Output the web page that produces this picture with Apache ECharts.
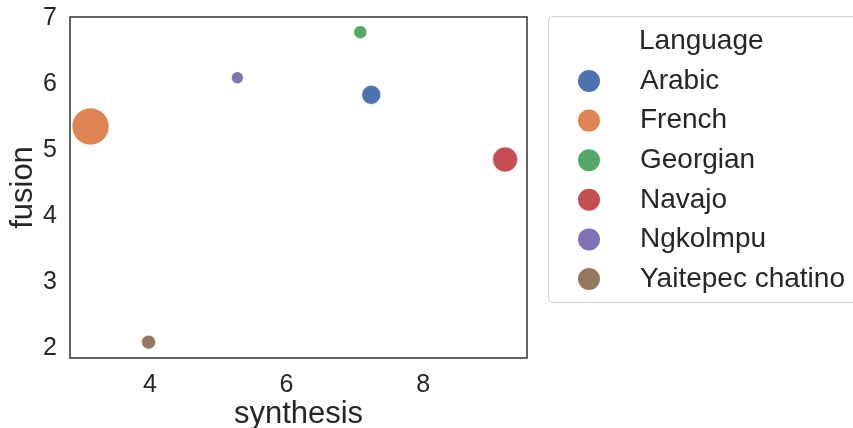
<!DOCTYPE html>
<html>
<head>
<meta charset="utf-8">
<script src="https://cdn.jsdelivr.net/npm/echarts@6/dist/echarts.min.js"></script>
<style>
  html, body { margin: 0; padding: 0; background: #fff; }
  #main { width: 853px; height: 428px; }
</style>
</head>
<body>
<div id="main"></div>
<script>
var languages = ['Arabic', 'French', 'Georgian', 'Navajo', 'Ngkolmpu', 'Yaitepec chatino'];
var synthesis = [7.24, 3.13, 7.08, 9.20, 5.28, 3.98];
var fusion = [5.84, 5.36, 6.79, 4.86, 6.10, 2.09];
// relative bubble size
var bubble = [19, 37, 13, 25, 12, 14];
var colors = ['#4C72B0', '#DD8452', '#55A868', '#C44E52', '#8172B3', '#937860'];

var xTicks = [4, 6, 8];
var yTicks = [2, 3, 4, 5, 6, 7];

var chart = echarts.init(document.getElementById('main'), null, { renderer: 'canvas' });

var series = languages.map(function (name, i) {
    return {
        name: name,
        type: 'scatter',
        data: [[synthesis[i], fusion[i], bubble[i]]],
        symbolSize: function (v) { return v[2]; },
        itemStyle: { color: colors[i], opacity: 1, borderColor: '#fff', borderWidth: 0.6 }
    };
});

var textColor = '#262626';

var option = {
    animation: false,
    color: colors,
    grid: {
        left: 70, top: 17, right: 326, bottom: 70,
        outerBoundsMode: 'none',
        containLabel: false,
        show: true, borderColor: '#333', borderWidth: 1.5,
        backgroundColor: 'transparent'
    },
    xAxis: {
        type: 'value',
        min: 2.83, max: 9.52,
        name: 'synthesis',
        nameLocation: 'middle',
        nameGap: 41,
        nameMoveOverlap: false,
        nameTextStyle: { fontFamily: 'Liberation Sans', fontSize: 31, color: textColor },
        axisLine: { show: false },
        axisTick: { show: false },
        splitLine: { show: false },
        axisLabel: {
            customValues: xTicks,
            fontFamily: 'Liberation Sans', fontSize: 25, color: textColor, margin: 15
        }
    },
    yAxis: {
        type: 'value',
        min: 1.85, max: 7.02,
        name: 'fusion',
        nameLocation: 'middle',
        nameGap: 31,
        nameMoveOverlap: false,
        nameTextStyle: { fontFamily: 'Liberation Sans', fontSize: 31, color: textColor },
        axisLine: { show: false },
        axisTick: { show: false },
        splitLine: { show: false },
        axisLabel: {
            customValues: yTicks,
            fontFamily: 'Liberation Sans', fontSize: 25, color: textColor, margin: 13,
            padding: [5, 0, 0, 0]
        }
    },
    legend: {
        orient: 'vertical',
        left: 576,
        top: 67,
        data: languages,
        icon: 'circle',
        itemWidth: 24,
        itemHeight: 24,
        itemGap: 11.6,
        padding: 0,
        textStyle: {
            fontFamily: 'Liberation Sans', fontSize: 28, color: textColor,
            lineHeight: 28,
            padding: [0, 0, 0, 34]
        },
        selectedMode: false
    },
    graphic: [
        {
            type: 'rect',
            shape: { x: 548.5, y: 16.5, width: 330, height: 286, r: 4 },
            style: { fill: 'none', stroke: '#cccccc', lineWidth: 1 },
            z: -1
        },
        {
            type: 'text',
            left: 639,
            top: 27,
            style: {
                text: 'Language',
                font: '28px "Liberation Sans"',
                fill: textColor
            }
        }
    ],
    series: series
};

chart.setOption(option);
</script>
</body>
</html>
